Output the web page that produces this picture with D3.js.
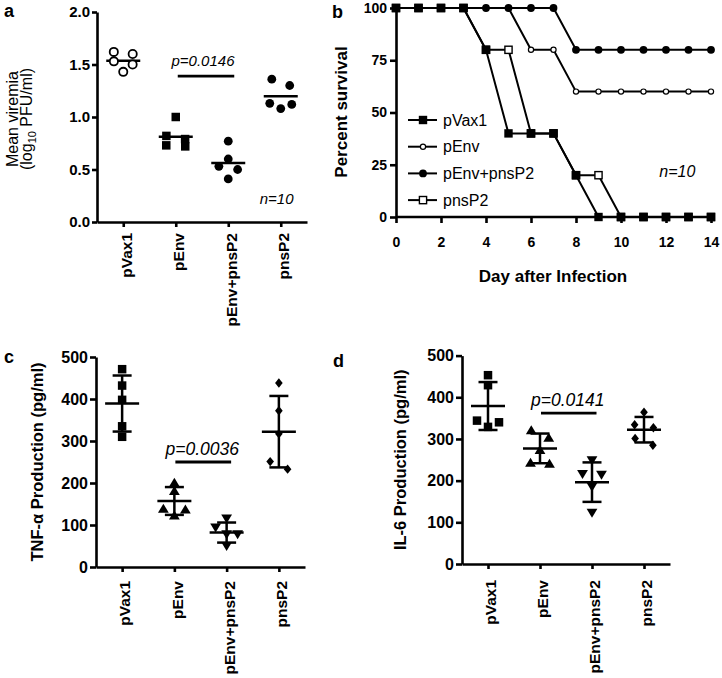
<!DOCTYPE html>
<html><head><meta charset="utf-8">
<script src="https://cdn.jsdelivr.net/npm/d3@7"></script>
<style>
body{margin:0;background:#fff}
svg{display:block}
text{font-family:"Liberation Sans",Arial,sans-serif;fill:#000}
</style></head><body>
<svg id="chart" width="722" height="678"></svg>
<script>
// ---------- DATA ----------
const groups = ["pVax1","pEnv","pEnv+pnsP2","pnsP2"];

// Panel a: mean viremia (log10 PFU/ml)
const viremiaPVax1     = [1.62,1.60,1.53,1.50,1.43];
const viremiaPEnv      = [1.00,0.82,0.79,0.72,0.73];
const viremiaPEnvPnsP2 = [0.77,0.60,0.53,0.50,0.41];
const viremiaPnsP2     = [1.36,1.30,1.13,1.12,1.08];
const viremiaTicks     = [0,0.5,1.0,1.5,2.0];

// Panel b: percent survival
const days          = [0,1,2,3,4,5,6,7,8,9,10,11,12,13,14];
const survPVax1     = [100,100,100,100,80,40,40,40,20,0,0,0,0,0,0];
const survPEnv      = [100,100,100,100,100,100,80,80,60,60,60,60,60,60,60];
const survPEnvPnsP2 = [100,100,100,100,100,100,100,100,80,80,80,80,80,80,80];
const survPnsP2     = [100,100,100,100,80,80,40,40,20,20,0,0,0,0,0];
const dayTicks      = [0,2,4,6,8,10,12,14];
const survTicks     = [0,25,50,75,100];

// Panel c: TNF-alpha (pg/ml)
const tnfPVax1     = [471,432,398,335,310];
const tnfPEnv      = [202,182,140,138,124];
const tnfPEnvPnsP2 = [114,93,77,77,49];
const tnfPnsP2     = [438,372,317,251,233];

// Panel d: IL-6 (pg/ml)
const il6PVax1     = [453,429,344,340,329];
const il6PEnv      = [322,304,275,244,242];
const il6PEnvPnsP2 = [248,215,213,184,122];
const il6PnsP2     = [364,334,327,301,285];
const cytokineTicks = [0,100,200,300,400,500];

// annotations
const pTextA = "p=0.0146", pLevelA = 1.39;
const pTextC = "p=0.0036", pLevelC = 250;
const pTextD = "p=0.0141", pLevelD = 362;
const nText = "n=10";

// ---------- HELPERS ----------
const svg = d3.select("#chart");
const AX_W = 2.6;

function styleAxis(g, fs){
  g.select(".domain").attr("stroke","#000").attr("stroke-width",AX_W);
  g.selectAll(".tick line").attr("stroke","#000").attr("stroke-width",AX_W);
  g.selectAll(".tick text").attr("font-weight","bold").attr("font-size",fs)
    .attr("fill","#000").style("font-family",'"Liberation Sans",Arial,sans-serif');
}

function rotateLabels(g, gap){
  g.selectAll(".tick text")
    .attr("transform","rotate(-90)")
    .attr("x",-gap).attr("y",0).attr("dy","0.5em")
    .attr("text-anchor","end");
}

// symmetric row-based dot spreading (like GraphPad scatter)
function spread(values, y, thr){
  const pts = values.map(v => ({v, py:y(v), dx:0}));
  const sorted = pts.slice().sort((a,b)=>b.py-a.py);
  const rows = [];
  sorted.forEach(p=>{
    const r = rows[rows.length-1];
    if(r && (r[0].py - p.py) < thr) r.push(p); else rows.push([p]);
  });
  const S = 19;
  rows.forEach(r=>{
    r.sort((a,b)=>a.py-b.py);
    if(r.length===2){
      const dy = Math.abs(r[1].py-r[0].py);
      const h = Math.max(6, Math.sqrt(Math.max(0,S*S-dy*dy))/2);
      r[0].dx=-h; r[1].dx=h;
    } else if(r.length===3){
      r[0].dx=-11; r[1].dx=11; r[2].dx=0;
    } else if(r.length>3){
      r.forEach((p,i)=>p.dx=(i-(r.length-1)/2)*10);
    }
  });
  return pts;
}

const shapes = {
  square: s => `M${-s/2},${-s/2}h${s}v${s}h${-s}Z`,
  up: s => `M${-s*0.6},${s*0.5}L${s*0.6},${s*0.5}L0,${-s*0.5}Z`,
  down: s => `M${-s*0.6},${-s*0.5}L${s*0.6},${-s*0.5}L0,${s*0.5}Z`,
  diamond: s => `M0,${-s*0.55}L${s*0.45},0L0,${s*0.55}L${-s*0.45},0Z`
};

function yLabel(x, y, txt, fs, weight){
  return svg.append("text").attr("transform",`translate(${x},${y}) rotate(-90)`)
    .attr("text-anchor","middle").attr("font-size",fs).attr("font-weight",weight).text(txt);
}
function panelLetter(x,y,t){
  svg.append("text").attr("x",x).attr("y",y).attr("font-size",18).attr("font-weight","bold").text(t);
}

// ---------- PANEL A ----------
{
  const x = d3.scalePoint().domain(groups).range([97,307]).padding(0.5);
  const y = d3.scaleLinear().domain([0,2]).range([222,12]);
  const g = svg.append("g");
  const ya = g.append("g").attr("transform","translate(97,0)")
    .call(d3.axisLeft(y).tickValues(viremiaTicks).tickFormat(d3.format(".1f")).tickSize(5).tickSizeOuter(0).tickPadding(2));
  styleAxis(ya,15);
  const xa = g.append("g").attr("transform","translate(0,222)")
    .call(d3.axisBottom(x).tickSize(5).tickSizeOuter(0));
  styleAxis(xa,15.5); rotateLabels(xa,11);

  const sets = [viremiaPVax1, viremiaPEnv, viremiaPEnvPnsP2, viremiaPnsP2];
  sets.forEach((vals,i)=>{
    const cx = x(groups[i]);
    const pts = spread(vals,y,7);
    const m = d3.mean(vals);
    g.append("line").attr("x1",cx-17).attr("x2",cx+17).attr("y1",y(m)).attr("y2",y(m))
      .attr("stroke","#000").attr("stroke-width",2.4);
    pts.forEach(p=>{
      if(i===0) g.append("circle").attr("cx",cx+p.dx).attr("cy",p.py).attr("r",4.1)
        .attr("fill","#fff").attr("stroke","#000").attr("stroke-width",1.8);
      else if(i===1) g.append("path").attr("transform",`translate(${cx+p.dx},${p.py})`).attr("d",shapes.square(8.5));
      else g.append("circle").attr("cx",cx+p.dx).attr("cy",p.py).attr("r",4.4);
    });
  });
  // p-value
  const x1 = x(groups[1])+2, x2 = x(groups[2])+6;
  g.append("line").attr("x1",x1).attr("x2",x2).attr("y1",y(pLevelA)).attr("y2",y(pLevelA))
    .attr("stroke","#000").attr("stroke-width",2.8);
  g.append("text").attr("x",(x1+x2)/2-3).attr("y",y(pLevelA)-10.5).attr("text-anchor","middle")
    .attr("font-size",15).attr("font-style","italic").text(pTextA);
  g.append("text").attr("x",x(groups[3])-21).attr("y",y(0.17)).attr("font-size",15)
    .attr("font-style","italic").text(nText);
  // y label
  yLabel(18,119,"Mean viremia",16,"normal");
  const t2 = svg.append("text").attr("transform","translate(32,119) rotate(-90)")
    .attr("text-anchor","middle").attr("font-size",16);
  t2.append("tspan").text("(log");
  t2.append("tspan").attr("font-size",11).attr("dy",4).text("10");
  t2.append("tspan").attr("dy",-4).text(" PFU/ml)");
  panelLetter(4,17,"a");
}

// ---------- PANEL B ----------
{
  const x = d3.scaleLinear().domain([0,14]).range([396,711]);
  const y = d3.scaleLinear().domain([0,100]).range([217,8]);
  const g = svg.append("g");
  const ya = g.append("g").attr("transform","translate(396,0)")
    .call(d3.axisLeft(y).tickValues(survTicks).tickSize(6).tickSizeOuter(0).tickPadding(3));
  styleAxis(ya,14);
  const xa = g.append("g").attr("transform","translate(0,217)")
    .call(d3.axisBottom(x).tickValues(dayTicks).tickSize(6).tickSizeOuter(0).tickPadding(14));
  styleAxis(xa,14);
  xa.select(".domain").attr("d","M396,0H715");

  const series = [
    {name:"pEnv", vals:survPEnv, mk:"ocircle"},
    {name:"pnsP2", vals:survPnsP2, mk:"osquare"},
    {name:"pEnv+pnsP2", vals:survPEnvPnsP2, mk:"fcircle"},
    {name:"pVax1", vals:survPVax1, mk:"fsquare"}
  ];
  const line = d3.line().x(d=>x(d[0])).y(d=>y(d[1]));
  function marker(sel, mk, cx, cy){
    if(mk==="fsquare") sel.append("rect").attr("x",cx-4.2).attr("y",cy-4.2).attr("width",8.4).attr("height",8.4);
    else if(mk==="osquare") sel.append("rect").attr("x",cx-3.6).attr("y",cy-3.6).attr("width",7.2).attr("height",7.2)
      .attr("fill","#fff").attr("stroke","#000").attr("stroke-width",1.4);
    else if(mk==="fcircle") sel.append("circle").attr("cx",cx).attr("cy",cy).attr("r",3.9);
    else sel.append("circle").attr("cx",cx).attr("cy",cy).attr("r",2.6)
      .attr("fill","#fff").attr("stroke","#000").attr("stroke-width",1.2);
  }
  series.forEach(s=>{
    const pts = days.map((d,i)=>[d,s.vals[i]]);
    g.append("path").attr("d",line(pts)).attr("fill","none").attr("stroke","#000").attr("stroke-width",2);
  });
  series.forEach(s=>{
    days.forEach((d,i)=>marker(g,s.mk,x(d),y(s.vals[i])));
  });
  // legend
  const legendOrder = [series[3],series[0],series[2],series[1]];
  legendOrder.forEach((s,i)=>{
    const ly = 120 + i*26.7;
    g.append("line").attr("x1",408).attr("x2",437).attr("y1",ly).attr("y2",ly).attr("stroke","#000").attr("stroke-width",2);
    marker(g,s.mk,423,ly);
    g.append("text").attr("x",443).attr("y",ly).attr("dy","0.35em").attr("font-size",16).text(s.name);
  });
  g.append("text").attr("x",x(11.7)).attr("y",y(19)).attr("font-size",16).attr("font-style","italic").text(nText);
  g.append("text").attr("x",553).attr("y",282).attr("text-anchor","middle").attr("font-size",17)
    .attr("font-weight","bold").text("Day after Infection");
  yLabel(346.5,112,"Percent survival",17,"bold");
  panelLetter(332,18,"b");
}

// ---------- PANELS C & D ----------
function cytokinePanel(opt){
  const x = d3.scalePoint().domain(groups).range([opt.x0,opt.x1]).padding(0.5);
  const y = d3.scaleLinear().domain([0,500]).range([opt.y0,opt.y1]);
  const g = svg.append("g");
  const ya = g.append("g").attr("transform",`translate(${opt.x0},0)`)
    .call(d3.axisLeft(y).tickValues(cytokineTicks).tickSize(6).tickSizeOuter(0).tickPadding(2));
  styleAxis(ya,16);
  const xa = g.append("g").attr("transform",`translate(0,${opt.y0})`)
    .call(d3.axisBottom(x).tickSize(5).tickSizeOuter(0));
  styleAxis(xa,15.5); rotateLabels(xa,opt.gap);

  const mk = ["square","up","down","diamond"];
  const sz = [8.5,9,9,8.5];
  const thr = [7,8.1,8.1,8];
  opt.sets.forEach((vals,i)=>{
    const cx = x(groups[i]);
    const m = d3.mean(vals), sd = d3.deviation(vals);
    const pts = spread(vals,y,thr[i]);
    pts.forEach(p=>{
      g.append("path").attr("transform",`translate(${cx+p.dx},${p.py})`).attr("d",shapes[mk[i]](sz[i]));
    });
    const ln = (a,b,c,d)=>g.append("line").attr("x1",a).attr("x2",b).attr("y1",c).attr("y2",d)
      .attr("stroke","#000").attr("stroke-width",2.5);
    ln(cx,cx,y(m+sd),y(m-sd));
    ln(cx-9.5,cx+9.5,y(m+sd),y(m+sd));
    ln(cx-9.5,cx+9.5,y(m-sd),y(m-sd));
    ln(cx-17,cx+17,y(m),y(m));
  });
  const x1 = x(groups[1])+1, x2 = x(groups[2])+4.5;
  g.append("line").attr("x1",x1).attr("x2",x2).attr("y1",y(opt.pLevel)).attr("y2",y(opt.pLevel))
    .attr("stroke","#000").attr("stroke-width",2.8);
  g.append("text").attr("x",(x1+x2)/2-1).attr("y",y(opt.pLevel)-7).attr("text-anchor","middle")
    .attr("font-size",17.5).attr("font-style","italic").text(opt.pText);
  yLabel(opt.labX,(opt.y0+opt.y1)/2,opt.label,16.5,"bold");
  panelLetter(opt.letX,opt.letY,opt.letter);
}

cytokinePanel({x0:96,x1:305,y0:567,y1:357,gap:14,sets:[tnfPVax1,tnfPEnv,tnfPEnvPnsP2,tnfPnsP2],
  pLevel:pLevelC,pText:pTextC,label:"TNF-\u03b1 Production (pg/ml)",labX:43,letter:"c",letX:4,letY:363});
cytokinePanel({x0:462,x1:670,y0:564,y1:355.6,gap:16,sets:[il6PVax1,il6PEnv,il6PEnvPnsP2,il6PnsP2],
  pLevel:pLevelD,pText:pTextD,label:"IL-6 Production (pg/ml)",labX:406,letter:"d",letX:333,letY:367});
</script>
</body></html>
